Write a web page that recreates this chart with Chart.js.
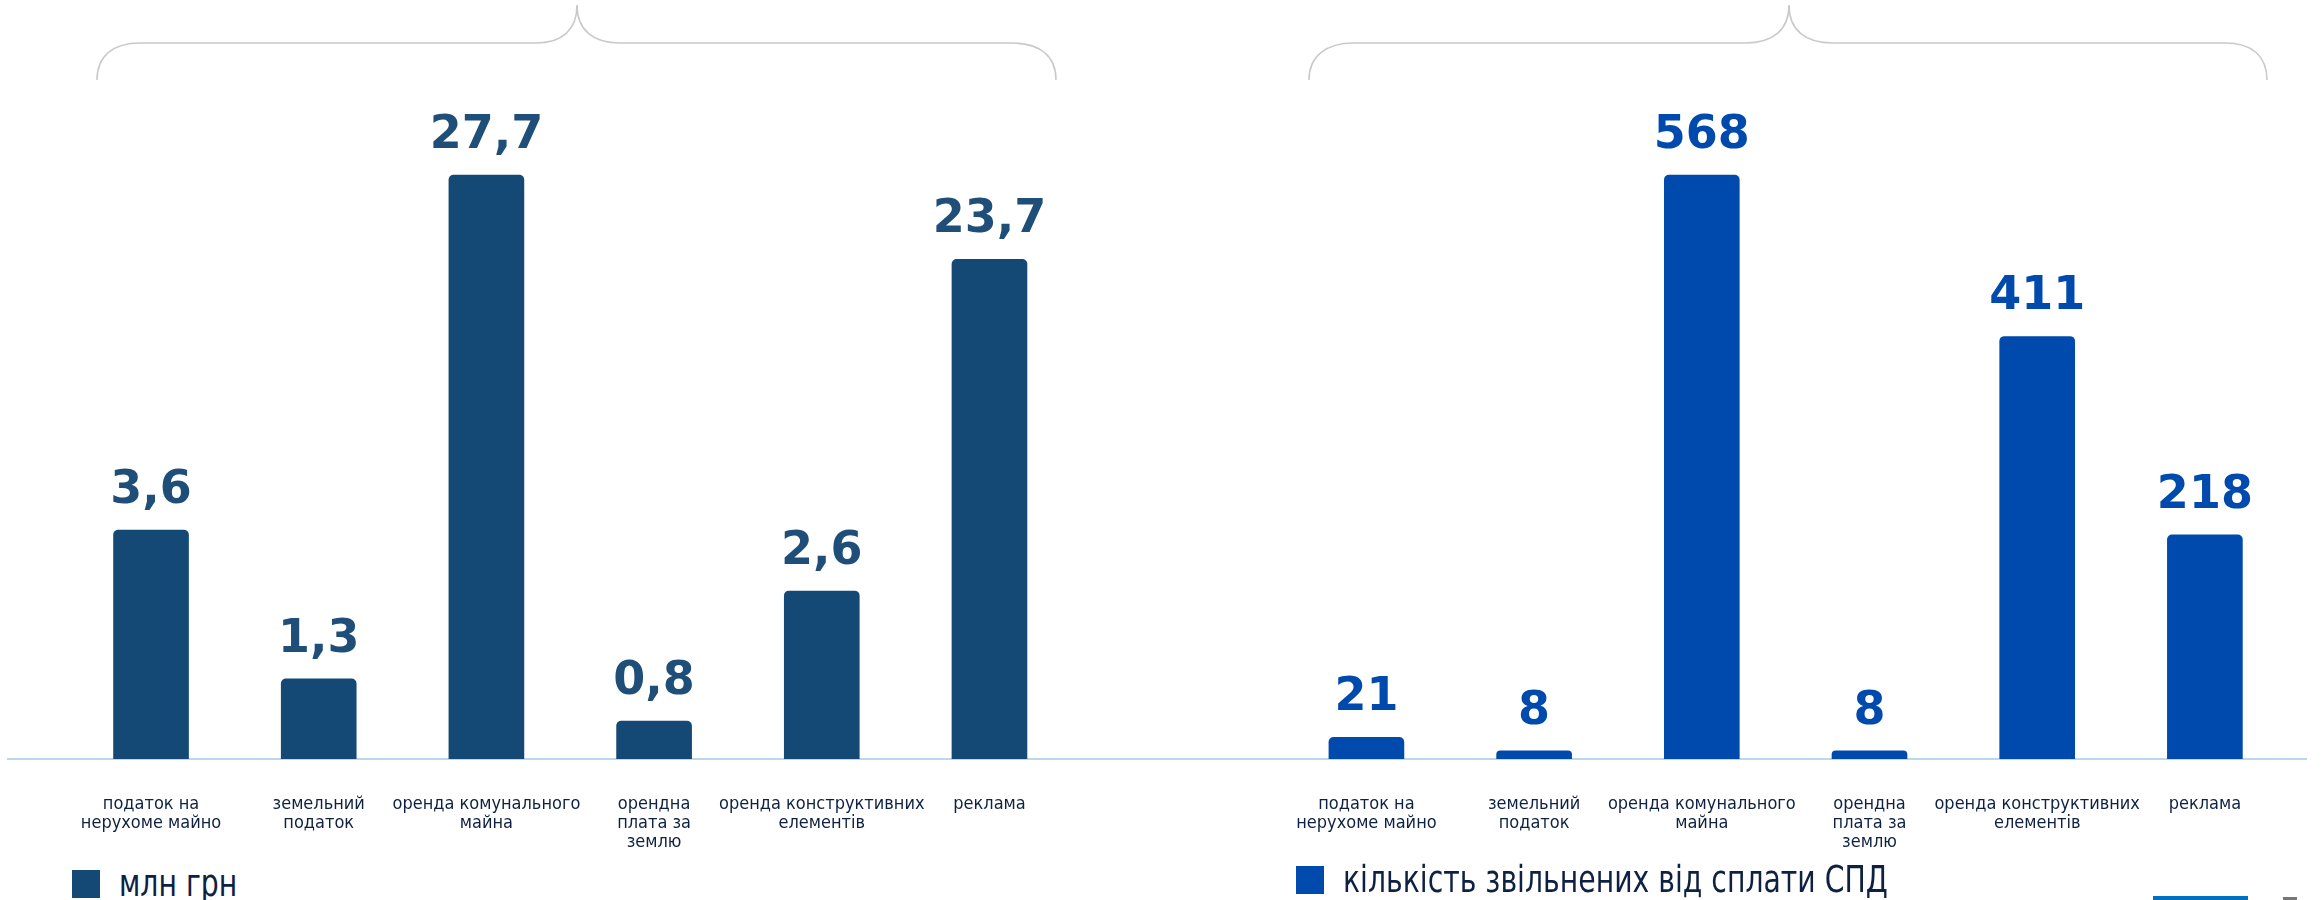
<!DOCTYPE html>
<html>
<head>
<meta charset="utf-8">
<script src="https://cdn.jsdelivr.net/npm/chart.js@4.4.1/dist/chart.umd.min.js"></script>
<style>
  html, body { margin: 0; padding: 0; background: #fff; }
  body { width: 2321px; height: 900px; position: relative; overflow: hidden; }
  .wrap { position: absolute; top: 0; height: 859px; }
  .legend { position: absolute; display: flex; align-items: center; color: #0f2142;
    font-family: "DejaVu Sans Condensed", "DejaVu Sans", sans-serif; font-size: 37px; white-space: nowrap; }
  .legend span.box { display: inline-block; width: 28px; height: 28px; margin-right: 19px; }
  .legend span.txt { display: inline-block; transform: scaleX(0.85); transform-origin: left center; }
  svg.braces { position: absolute; left: 0; top: 0; }
</style>
</head>
<body>
<svg class="braces" width="2321" height="100">
  <path d="M97,80 C97,56 113,43 140,43 L536,43 C562,43 577,30 577,5 C577,30 593,43 620,43 L1012,43 C1040,43 1056,56 1056,80" fill="none" stroke="#c9c9c9" stroke-width="1.6"/>
  <path d="M1309,80 C1309,56 1326,43 1354,43 L1745,43 C1773,43 1789,30 1789,5 C1789,30 1805,43 1833,43 L2225,43 C2252,43 2267,56 2267,80" fill="none" stroke="#c9c9c9" stroke-width="1.6"/>
</svg>
<div class="wrap" style="left:0;width:1160px"><canvas id="mlnChart"></canvas></div>
<div class="wrap" style="left:1160px;width:1161px"><canvas id="spdChart"></canvas></div>
<div class="legend" style="left:72px;top:862px"><span class="box" style="background:#154975"></span><span class="txt">млн грн</span></div>
<div class="legend" style="left:1296px;top:858px"><span class="box" style="background:#004aad"></span><span class="txt">кількість звільнених від сплати СПД</span></div>
<div style="position:absolute;left:2153px;top:896px;width:95px;height:4px;background:#0070c0"></div>
<div style="position:absolute;left:2283px;top:897px;width:14px;height:3px;background:#777"></div>
<script>
// categories (same for both charts)
const categories = [
  ['податок на', 'нерухоме майно'],
  ['земельний', 'податок'],
  ['оренда комунального', 'майна'],
  ['орендна', 'плата за', 'землю'],
  ['оренда конструктивних', 'елементів'],
  ['реклама']
];

// left chart: printed values (млн грн) and bar heights as drawn in the reference
// (the reference draws the small bars out of scale)
const mlnLabels = ['3,6', '1,3', '27,7', '0,8', '2,6', '23,7'];
const mlnBarHeights = [10.86, 3.8, 27.7, 1.8, 7.97, 23.7];

// right chart: number of exempted entrepreneurs (СПД)
const spdValues = [21, 8, 568, 8, 411, 218];
const spdLabels = ['21', '8', '568', '8', '411', '218'];

// value labels above bars
const valueLabelPlugin = {
  id: 'valueLabels',
  afterDatasetsDraw(chart) {
    const { ctx } = chart;
    const meta = chart.getDatasetMeta(0);
    const labels = chart.options.plugins.valueLabels.labels;
    ctx.save();
    ctx.font = 'bold 46px "DejaVu Sans", sans-serif';
    ctx.fillStyle = chart.options.plugins.valueLabels.color;
    ctx.textAlign = 'center';
    ctx.textBaseline = 'alphabetic';
    meta.data.forEach((bar, i) => {
      ctx.fillText(labels[i], bar.x, bar.y - 27);
    });
    ctx.restore();
  }
};

function makeChart(canvasId, values, labels, barColor, labelColor, xMin, xMax, yMax, padding) {
  const ctx = document.getElementById(canvasId).getContext('2d');
  return new Chart(ctx, {
    type: 'bar',
    data: {
      datasets: [{
        data: values.map((v, i) => ({ x: i, y: v })),
        backgroundColor: barColor,
        barThickness: 75,
        borderRadius: 5,
        borderSkipped: 'start'
      }]
    },
    options: {
      responsive: true,
      maintainAspectRatio: false,
      animation: false,
      layout: { padding: padding },
      plugins: {
        legend: { display: false },
        tooltip: { enabled: false },
        valueLabels: { labels: labels, color: labelColor }
      },
      scales: {
        x: {
          type: 'linear',
          offset: false,
          min: xMin,
          max: xMax,
          grid: { display: false, drawTicks: false, offset: false },
          border: { display: true, color: '#bdd7ee', width: 2 },
          afterBuildTicks: (scale) => {
            scale.ticks = categories.map((_, i) => ({ value: i }));
          },
          afterFit: (scale) => { scale.height = 100; },
          ticks: {
            autoSkip: false,
            maxRotation: 0,
            padding: 36,
            color: '#0f2142',
            font: { family: '"DejaVu Sans Condensed", "DejaVu Sans", sans-serif', size: 18, lineHeight: 1.05 },
            callback: (v) => categories[v]
          }
        },
        y: {
          display: false,
          min: 0,
          max: yMax
        }
      }
    },
    plugins: [valueLabelPlugin]
  });
}

makeChart('mlnChart', mlnBarHeights, mlnLabels, '#154975', '#1f4e79',
  -0.853, 6.017, 31.26, { top: 100, left: 8, right: 0, bottom: 0 });
makeChart('spdChart', spdValues, spdLabels, '#004aad', '#004aad',
  -1.231, 5.603, 641, { top: 100, left: 0, right: 15, bottom: 0 });
</script>
</body>
</html>
